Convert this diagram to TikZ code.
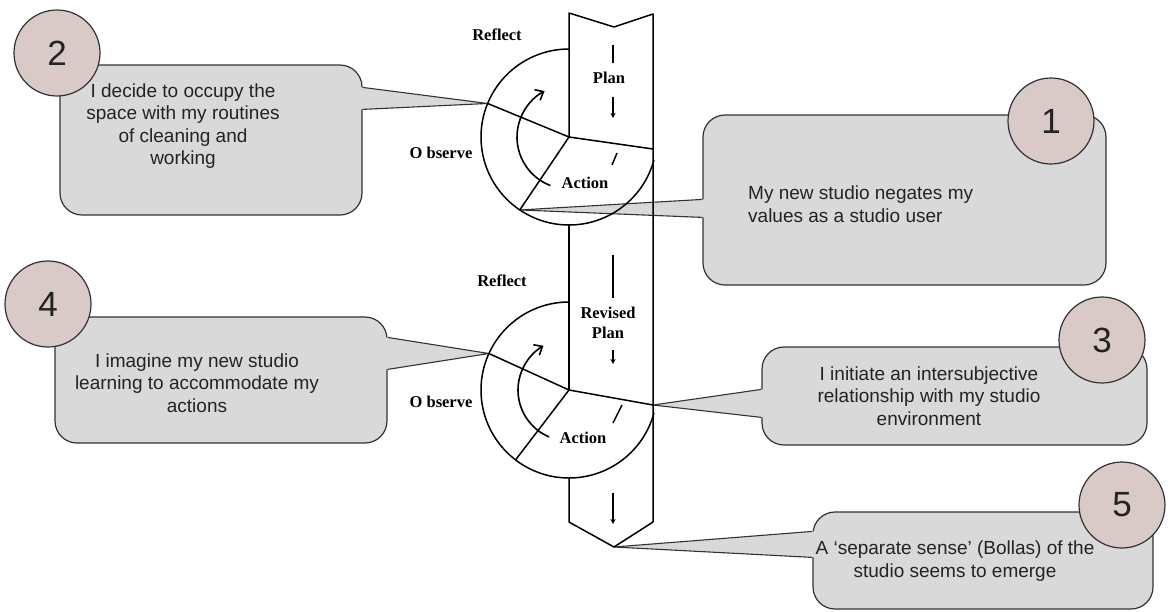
\documentclass[tikz,border=0pt]{standalone}
\usepackage{fontspec}
\setmainfont{Liberation Sans}
\newfontfamily\seriffont{Liberation Serif}
\usetikzlibrary{arrows.meta,calc}
\definecolor{bubblegray}{RGB}{217,217,217}
\definecolor{badgepink}{RGB}{217,201,199}
\definecolor{outline}{RGB}{50,50,50}
\definecolor{ink}{RGB}{35,35,35}

% speech-bubble tail: upper junction, tip, lower junction, inward shift of the fill
\newcommand\speechtail[4]{%
  \fill[bubblegray] ([xshift=#4]#1) -- (#1) -- (#2) -- (#3) -- ([xshift=#4]#3) -- cycle;
  \draw[tailedge] (#1) -- (#2) -- (#3);}

\begin{document}
\begin{tikzpicture}[x=1pt,y=1pt,
  bubble/.style={draw=outline, line width=1.2pt, fill=bubblegray, rounded corners=22pt, inner sep=0pt},
  tailedge/.style={draw=outline, line width=1.1pt, line join=round},
  badge/.style={circle, draw=outline, line width=1.2pt, fill=badgepink, minimum size=86pt,
                inner sep=0pt, font=\fontsize{35}{35}\selectfont, text=ink},
  note/.style={font=\fontsize{19}{22.5}\selectfont, text=ink, inner sep=0pt},
  cyc/.style={line width=1.5pt, black, line join=round},
  turn/.style={line width=1.6pt, black, -{Straight Barb[length=7pt,width=12pt]}},
  bar/.style={line width=2.6pt, black},
  down/.style={line width=1.4pt, black, -{Stealth[length=5pt,width=5pt]}},
  lbl/.style={font=\seriffont\bfseries\fontsize{16.5}{18}\selectfont, inner sep=0pt},
]
\useasboundingbox (0,0) rectangle (1171,-611);

% ---- speech bubbles ----
\node[bubble, minimum width=302pt, minimum height=150pt] (b2) at (211,-140) {};
\node[bubble, minimum width=403pt, minimum height=170pt] (b1) at (904.5,-200) {};
\node[bubble, minimum width=332pt, minimum height=126pt] (b4) at (221,-380) {};
\node[bubble, minimum width=385pt, minimum height=98pt] (b3) at (954.5,-396) {};
\node[bubble, minimum width=340pt, minimum height=97pt] (b5) at (983,-560.5) {};

% ---- cycle key points ----
\coordinate (o1) at (569,-137);
\coordinate (o2) at (569,-390);
\coordinate (r1) at ($(o1)+(157.6:88)$);
\coordinate (a1) at ($(o1)+(236:88)$);
\coordinate (e1) at (653,-149);
\coordinate (r2) at ($(o2)+(155.5:88)$);
\coordinate (a2) at ($(o2)+(232.6:88)$);
\coordinate (e2) at (653,-405);
\coordinate (bl) at (569,-13);
\coordinate (nt) at (614,-27);
\coordinate (br) at (653,-14);
\coordinate (bbl) at (569,-522);
\coordinate (bp) at (614,-547);
\coordinate (bbr) at (653,-522);

% ---- tails ----
\speechtail{$(b2.north east)+(0,-23)$}{r1}{$(b2.north east)+(0,-45)$}{-3pt}
\speechtail{$(b1.north west)+(0,-85)$}{a1}{$(b1.north west)+(0,-103)$}{3pt}
\speechtail{$(b4.north east)+(0,-21)$}{r2}{$(b4.north east)+(0,-53)$}{-3pt}
\speechtail{$(b3.north west)+(0,-43)$}{e2}{$(b3.north west)+(0,-71)$}{3pt}
\speechtail{$(b5.north west)+(0,-20)$}{bp}{$(b5.north west)+(0,-46)$}{3pt}

% ---- bubble texts ----
\node[note, align=center] (t2) at (183,-126) {I decide to occupy the\\space with my routines\\of cleaning and\\working};
\node[note, align=left, anchor=west] (t1) at (748,-204) {My new studio negates my\\values as a studio user};
\node[note, align=center] (t4) at (197,-383) {I imagine my new studio\\learning to accommodate my\\actions};
\node[note, align=center] (t3) at (929,-396) {I initiate an intersubjective\\relationship with my studio\\environment};
\node[note, align=center] (t5) at (955,-561) {A `separate sense' (Bollas) of the\\studio seems to emerge};

% ---- numbered badges ----
\node[badge] (n2) at (57,-53) {2};
\node[badge] (n1) at (1051,-121) {1};
\node[badge] (n4) at (48,-304) {4};
\node[badge] (n3) at (1102,-340) {3};
\node[badge] (n5) at (1122,-505) {5};

% ---- the downward band ----
\draw[cyc] (o1) -- (bl) -- (nt) -- (br) -- (bbr) -- (bp) -- (bbl) -- ($(o2)+(0,-88)$);
\draw[cyc] ($(o1)+(0,-88)$) -- (o2);

% ---- first cycle ----
\draw[cyc] ($(o1)+(0,88)$) arc[start angle=90, end angle=345, radius=88];
\draw[cyc] (r1) -- (o1) -- (e1);
\draw[cyc] (o1) -- (a1);
\draw[turn] ($(o1)+(249:52)$) arc[start angle=249, end angle=118, radius=52];
\draw[cyc] (617,-153) -- (612,-165);
\draw[bar] (613,-45) -- (613,-63);
\draw[down] (613,-97) -- (613,-118);
\node[lbl] (rf1) at (497,-35) {Reflect};
\node[lbl] (ob1) at (441,-153) {O bserve};
\node[lbl] (pl1) at (609,-78) {Plan};
\node[lbl] (ac1) at (585,-183) {Action};

% ---- second cycle ----
\draw[cyc] ($(o2)+(0,88)$) arc[start angle=90, end angle=345, radius=88];
\draw[cyc] (r2) -- (o2) -- (e2);
\draw[cyc] (o2) -- (a2);
\draw[turn] ($(o2)+(247:51)$) arc[start angle=247, end angle=120, radius=51];
\draw[cyc] (622,-405) -- (613,-423);
\draw[bar] (613,-255) -- (613,-298);
\draw[down] (613,-350) -- (613,-364);
\node[lbl] (rf2) at (502,-281) {Reflect};
\node[lbl] (ob2) at (441,-402) {O bserve};
\node[lbl, align=center, font=\seriffont\bfseries\fontsize{16.5}{20}\selectfont] (pl2) at (608,-323) {Revised\\Plan};
\node[lbl] (ac2) at (583,-438) {Action};

% ---- exit arrow ----
\draw[down] (613,-493) -- (613,-524);
\end{tikzpicture}
\end{document}
